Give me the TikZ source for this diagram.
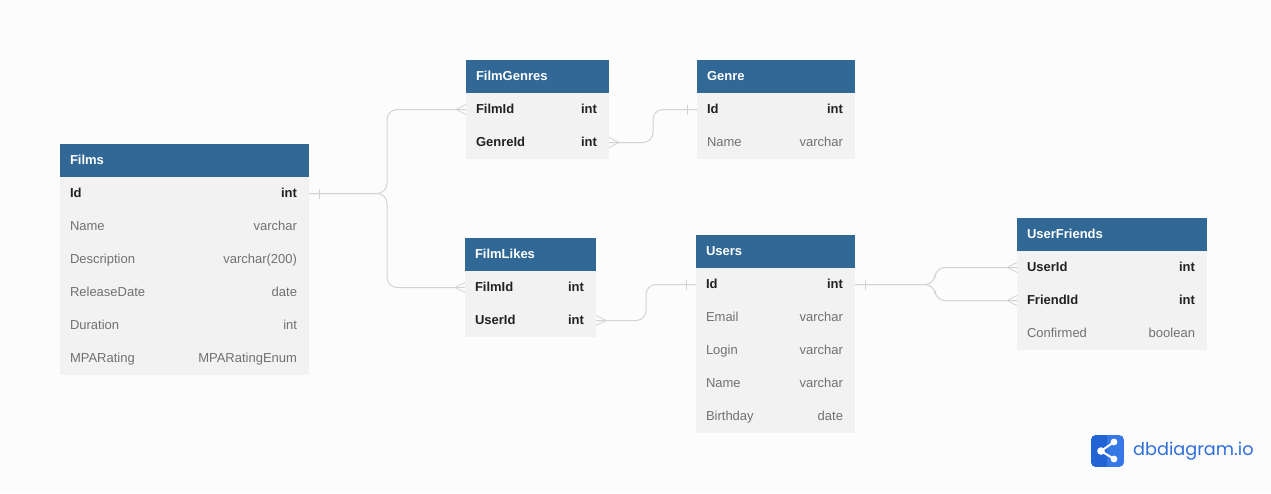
\documentclass[tikz,border=0pt]{standalone}
\usepackage{fontspec}
\setmainfont{Liberation Sans}
\newfontfamily\logofont{Poppins}
\usetikzlibrary{calc}
\definecolor{pagebg}{HTML}{FCFCFC}
\definecolor{headblue}{HTML}{316896}
\definecolor{rowgrey}{HTML}{F2F2F2}
\definecolor{linegrey}{HTML}{D3D3D3}
\definecolor{keytext}{HTML}{222222}
\definecolor{plaintext}{HTML}{717171}
\definecolor{logoblue}{HTML}{2F6FDC}
\definecolor{logodark}{HTML}{2264D6}
\definecolor{logolight}{HTML}{3679E6}
\newcommand{\fixstrut}{\rule[-5pt]{0pt}{17pt}}
\tikzset{
  x=1pt,y=-1pt,
  tablehead/.style={anchor=north west,minimum height=33pt,inner sep=0pt,outer sep=0pt,fill=headblue,text=white,font=\fontsize{13}{15}\selectfont\bfseries},
  keyrow/.style={anchor=north west,minimum height=33pt,inner sep=0pt,outer sep=0pt,fill=rowgrey,text=keytext,font=\fontsize{13}{15}\selectfont\bfseries},
  plainrow/.style={anchor=north west,minimum height=33pt,inner sep=0pt,outer sep=0pt,fill=rowgrey,text=plaintext,font=\fontsize{13}{15}\selectfont},
  conn/.style={draw=linegrey,line width=1pt,rounded corners=10pt},
  mark line/.style={draw=linegrey,line width=0.8pt},
}
\newcommand{\tblhead}[5]{\node[tablehead,minimum width=#4pt] (#1) at (#2,#3) {\hbox to #4pt{\fixstrut\hskip10pt #5\hfill}};}
\newcommand{\trow}[6]{\node[#1,minimum width=#4pt,anchor=north] (#2) at (#3.south) {\hbox to #4pt{\fixstrut\hskip10pt #5\hfill #6\hskip12pt}};}
\newcommand{\tickmark}[2]{\draw[mark line] (#1) ++(#2,-5) -- ++(0,10);}
\newcommand{\crowmark}[2]{\draw[mark line] (#1) ++(0,-5) -- ++(#2,5) -- ++(-#2,5);}
\begin{document}
\begin{tikzpicture}
\useasboundingbox[fill=pagebg] (0,0) rectangle (1271,493);
% Films
\tblhead{films}{60}{144}{249}{Films}
\trow{keyrow}{films-id}{films}{249}{Id}{int}
\trow{plainrow}{films-name}{films-id}{249}{Name}{varchar}
\trow{plainrow}{films-desc}{films-name}{249}{Description}{varchar(200)}
\trow{plainrow}{films-date}{films-desc}{249}{ReleaseDate}{date}
\trow{plainrow}{films-dur}{films-date}{249}{Duration}{int}
\trow{plainrow}{films-mpa}{films-dur}{249}{MPARating}{MPARatingEnum}
% FilmGenres
\tblhead{fg}{466}{60}{143}{FilmGenres}
\trow{keyrow}{fg-film}{fg}{143}{FilmId}{int}
\trow{keyrow}{fg-genre}{fg-film}{143}{GenreId}{int}
% Genre
\tblhead{genre}{697}{60}{158}{Genre}
\trow{keyrow}{genre-id}{genre}{158}{Id}{int}
\trow{plainrow}{genre-name}{genre-id}{158}{Name}{varchar}
% FilmLikes
\tblhead{fl}{465}{238}{131}{FilmLikes}
\trow{keyrow}{fl-film}{fl}{131}{FilmId}{int}
\trow{keyrow}{fl-user}{fl-film}{131}{UserId}{int}
% Users
\tblhead{users}{696}{235}{159}{Users}
\trow{keyrow}{users-id}{users}{159}{Id}{int}
\trow{plainrow}{users-email}{users-id}{159}{Email}{varchar}
\trow{plainrow}{users-login}{users-email}{159}{Login}{varchar}
\trow{plainrow}{users-name}{users-login}{159}{Name}{varchar}
\trow{plainrow}{users-birth}{users-name}{159}{Birthday}{date}
% UserFriends
\tblhead{uf}{1017}{218}{190}{UserFriends}
\trow{keyrow}{uf-user}{uf}{190}{UserId}{int}
\trow{keyrow}{uf-friend}{uf-user}{190}{FriendId}{int}
\trow{plainrow}{uf-conf}{uf-friend}{190}{Confirmed}{boolean}
% connectors
\draw[conn] (films-id.east) -- ($(films-id.east)+(78,0)$) |- (fg-film.west);
\draw[conn] (films-id.east) -- ($(films-id.east)+(78,0)$) |- (fl-film.west);
\draw[conn] (fg-genre.east) -- ($(fg-genre.east)+(44,0)$) |- (genre-id.west);
\draw[conn] (fl-user.east) -- ($(fl-user.east)+(50,0)$) |- (users-id.west);
\draw[conn] (users-id.east) -- ($(users-id.east)+(80,0)$) |- (uf-user.west);
\draw[conn] (users-id.east) -- ($(users-id.east)+(80,0)$) |- (uf-friend.west);
% cardinality marks
\tickmark{films-id.east}{10}
\tickmark{genre-id.west}{-10}
\tickmark{users-id.west}{-10}
\tickmark{users-id.east}{10}
\crowmark{fg-film.west}{-10}
\crowmark{fl-film.west}{-10}
\crowmark{uf-user.west}{-10}
\crowmark{uf-friend.west}{-10}
\crowmark{fg-genre.east}{10}
\crowmark{fl-user.east}{10}
% logo
\begin{scope}
\clip[rounded corners=5pt] (1091,435) rectangle (1124,467);
\fill[logolight] (1091,435) rectangle (1124,467);
\fill[logodark] (1091,435) rectangle (1107,467);
\end{scope}
\draw[white,line width=2pt] (1114,442) -- (1101,451) -- (1114,459);
\fill[white] (1101,451) circle[radius=3.8];
\fill[white] (1114,442) circle[radius=3.4];
\fill[white] (1114,459) circle[radius=3.4];
\node[anchor=west,inner sep=0pt,text=logoblue,font=\logofont\fontsize{17.7}{21}\selectfont] (logo) at (1133,451) {dbdiagram.io};
\end{tikzpicture}
\end{document}
